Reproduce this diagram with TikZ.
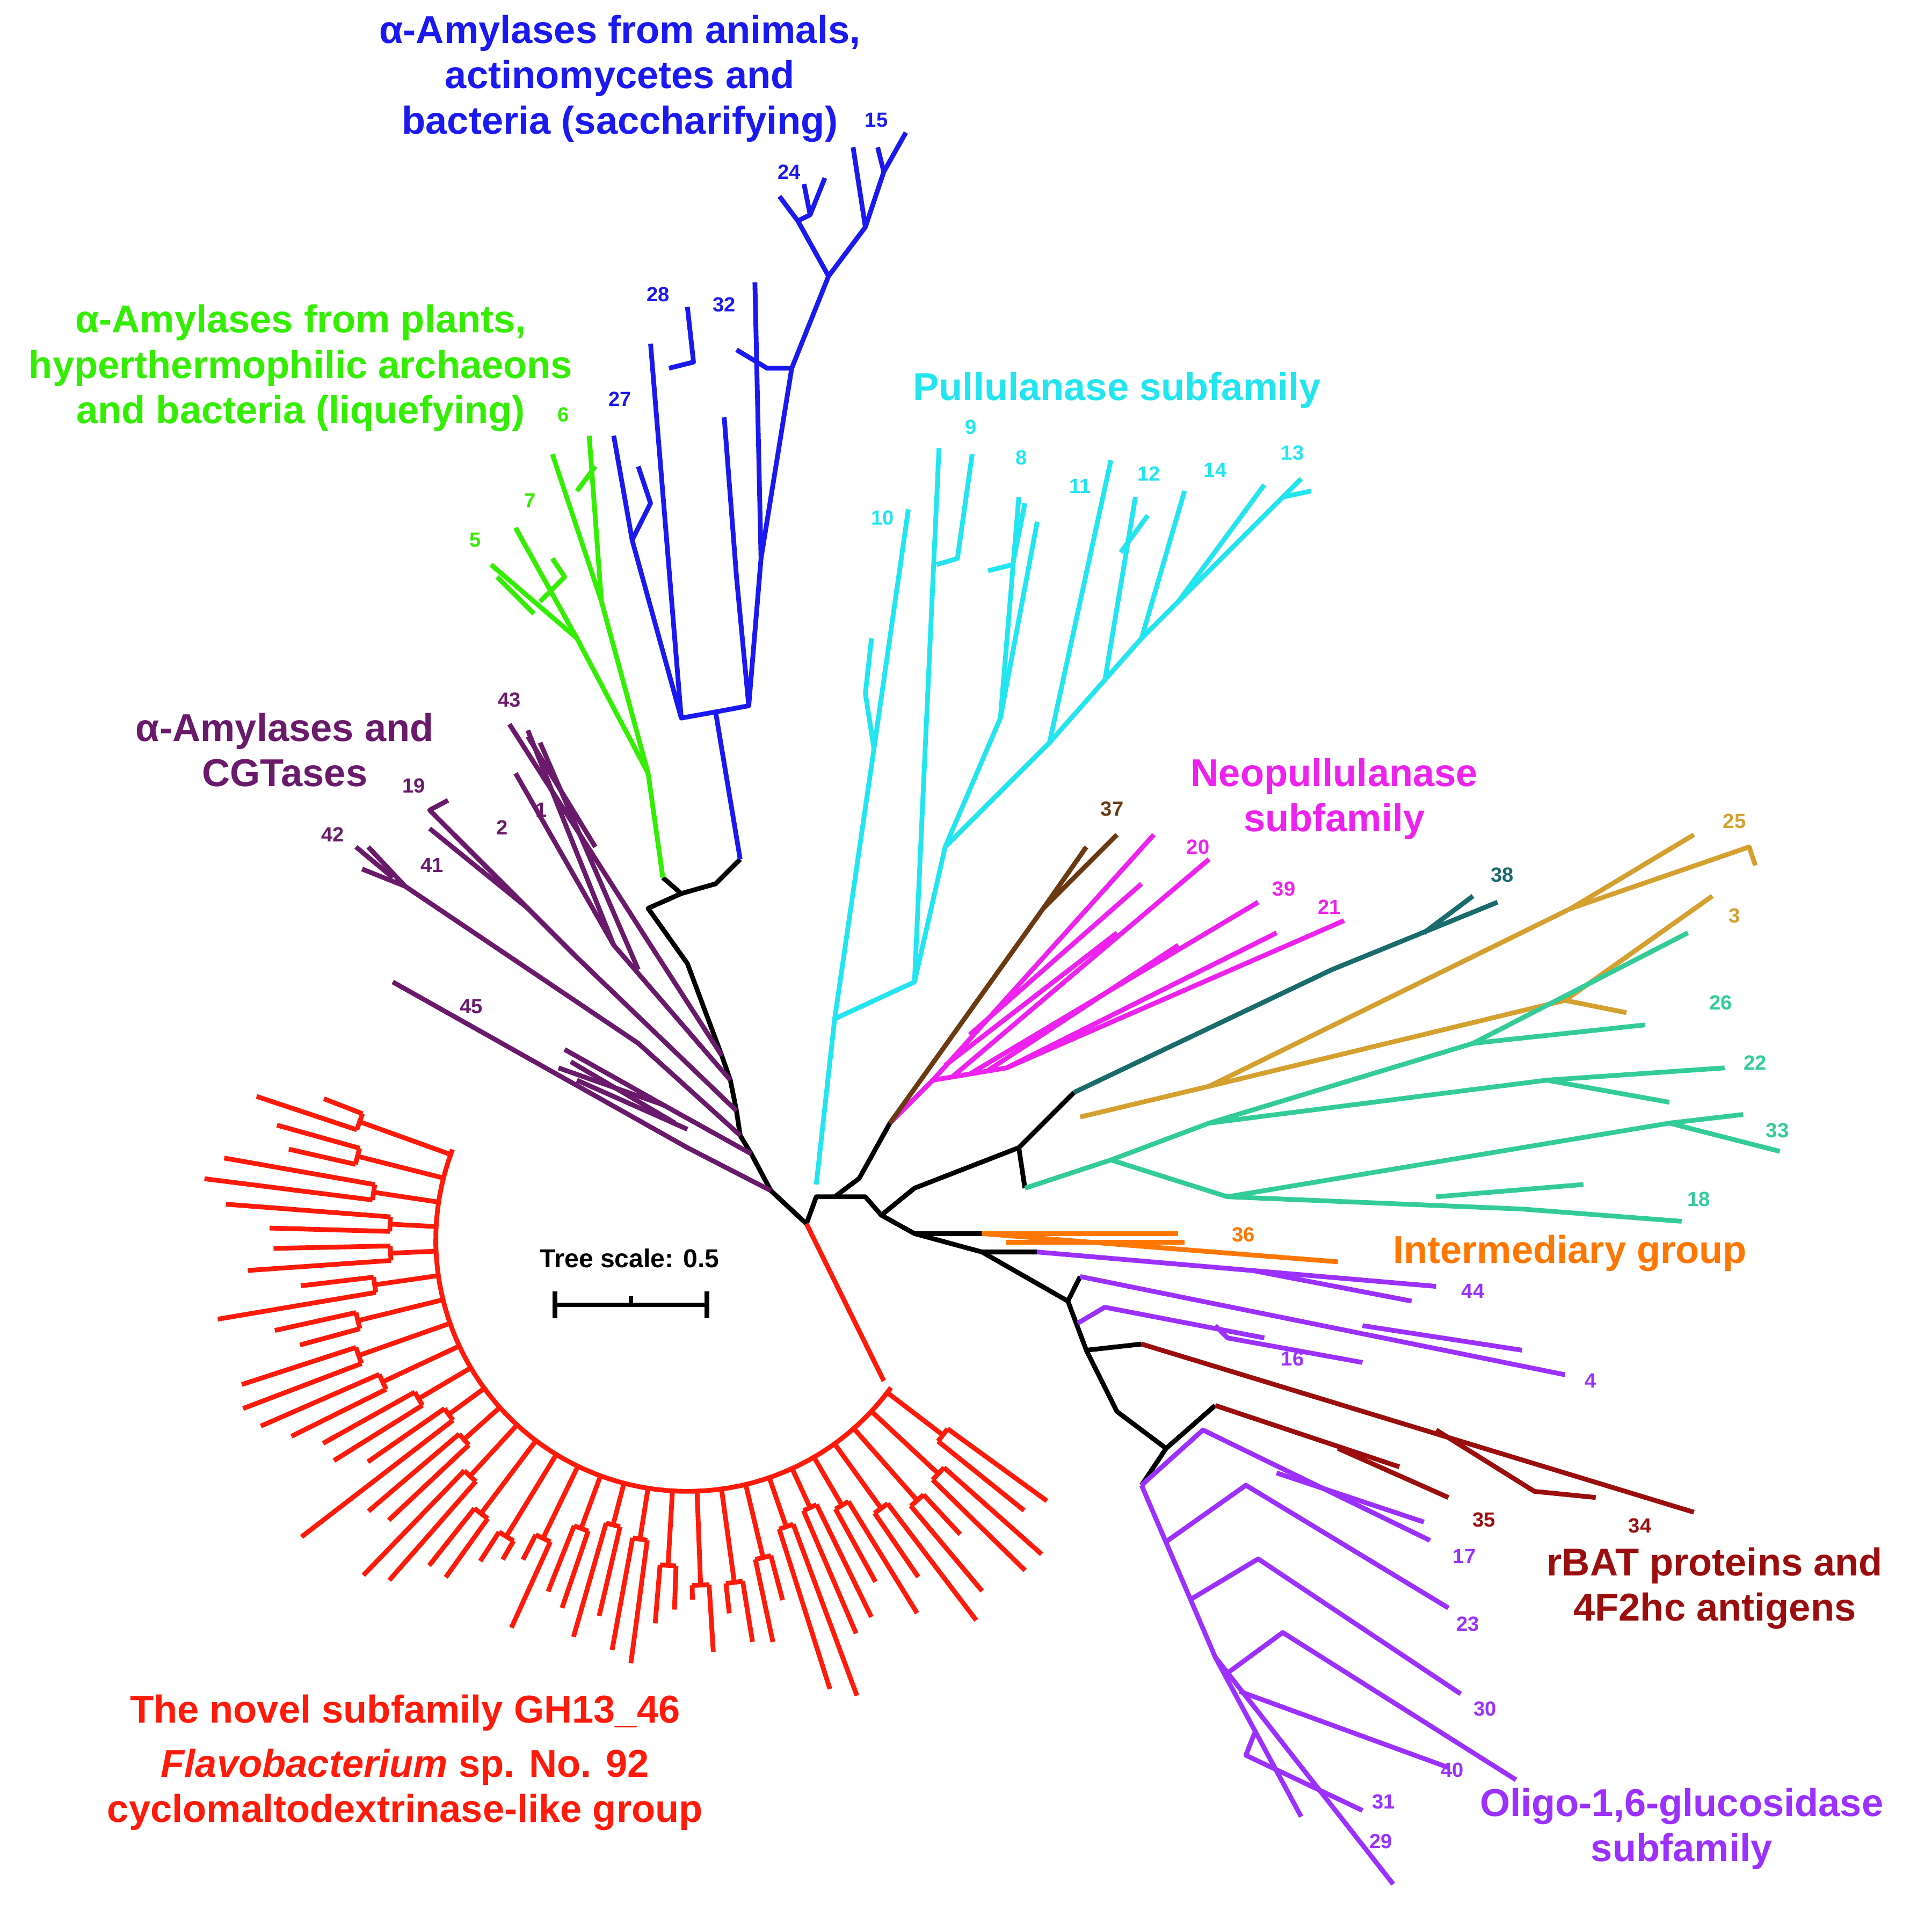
\documentclass[tikz,border=0pt]{standalone}
\usepackage{fontspec}
\setmainfont{Liberation Sans}
\begin{document}
\definecolor{cblue}{HTML}{1A1AF0}
\definecolor{cgreen}{HTML}{33EE00}
\definecolor{cpur}{HTML}{6A1A6A}
\definecolor{ccyan}{HTML}{22E5F0}
\definecolor{cmag}{HTML}{EE22EE}
\definecolor{cbrown}{HTML}{6B3A10}
\definecolor{cteal}{HTML}{1A6B6B}
\definecolor{cgold}{HTML}{D4A030}
\definecolor{csea}{HTML}{33CC99}
\definecolor{corange}{HTML}{FF7700}
\definecolor{cviol}{HTML}{9B30FF}
\definecolor{cdred}{HTML}{9B0E0E}
\definecolor{cred}{HTML}{FF1A0A}
\begin{tikzpicture}[x=0.02cm,y=-0.02cm,line width=2.2pt,line join=round,
  ttl/.style={font=\bfseries\fontsize{18}{21}\selectfont,align=center},
  num/.style={font=\bfseries\fontsize{9.5}{11}\selectfont}]
\useasboundingbox (0,0) rectangle (1556,1574);
% backbone
\draw (657,997)--(628,970)--(612,940)--(603,925)--(600,905)--(595,880)--(588,860)--(560,785)--(528,740)--(555,728)--(583,720)--(603,700);
\draw (555,728)--(540,715);
\draw (657,997)--(665,975)--(680,975)--(700,960)--(725,915);
\draw (680,975)--(705,975)--(718,990)--(745,968)--(830,935)--(875,890);
\draw (830,935)--(835,968);
\draw (718,990)--(745,1005)--(800,1005);
\draw (745,1005)--(800,1020)--(845,1020);
\draw (800,1020)--(870,1060)--(880,1040);
\draw (870,1060)--(885,1100)--(930,1095);
\draw (885,1100)--(910,1150)--(950,1180)--(990,1145);
\draw (950,1180)--(930,1210);
% blue
\begin{scope}[cblue]
\draw (603,700)--(583,580)--(555,585)--(515,440)--(500,355);
\draw (515,440)--(530,410)--(520,380);
\draw (555,585)--(530,280);
\draw (545,300)--(565,295)--(560,250);
\draw (583,580)--(610,575)--(600,470)--(590,340);
\draw (610,575)--(620,455)--(615,230);
\draw (620,455)--(645,300)--(625,300)--(600,285);
\draw (645,300)--(675,225)--(650,180)--(635,160);
\draw (650,180)--(660,175)--(655,150); \draw (660,175)--(672,145);
\draw (675,225)--(705,185)--(695,120);
\draw (705,185)--(720,140)--(715,120); \draw (720,140)--(738,108);
\end{scope}
% green
\begin{scope}[cgreen]
\draw (540,715)--(528,630)--(490,490)--(480,355);
\draw (490,490)--(450,370); \draw (470,400)--(485,380);
\draw (528,630)--(470,520)--(400,460);
\draw (470,520)--(420,430); \draw (440,490)--(460,470)--(450,455);
\draw (435,500)--(405,470);
\end{scope}
% purple
\begin{scope}[cpur]
\draw (628,970)--(560,935)--(320,800);
\draw (612,940)--(540,900)--(460,855); \draw (540,900)--(455,870); \draw (560,920)--(470,880); \draw (550,915)--(465,865);
\draw (603,925)--(520,850)--(330,722)--(300,690); \draw (330,722)--(295,708); \draw (320,715)--(290,690);
\draw (600,905)--(470,780)--(350,660)--(365,652); \draw (470,780)--(370,680); \draw (430,740)--(350,675);
\draw (595,880)--(500,770)--(430,595); \draw (500,770)--(420,630); \draw (520,790)--(440,605);
\draw (588,860)--(530,770)--(415,590); \draw (485,690)--(430,600);
\end{scope}
% cyan
\begin{scope}[ccyan]
\draw (665,965)--(680,830)--(712,610)--(740,415);
\draw (712,610)--(705,565)--(710,520);
\draw (680,830)--(745,800)--(770,690)--(855,605)--(905,375);
\draw (745,800)--(765,365);
\draw (763,460)--(780,455)--(792,370);
\draw (770,690)--(815,585)--(830,405); \draw (815,585)--(845,425);
\draw (805,465)--(825,460)--(835,410);
\draw (855,605)--(930,520)--(1060,390); \draw (930,520)--(965,400); \draw (900,555)--(925,405);
\draw (913,450)--(935,420); \draw (960,490)--(1030,395); \draw (1045,405)--(1068,400);
\end{scope}
% magenta
\begin{scope}[cmag]
\draw (725,915)--(760,880)--(940,680);
\draw (760,880)--(820,870)--(1095,750);
\draw (775,878)--(985,700); \draw (790,875)--(1025,735);
\draw (770,868)--(910,760); \draw (805,872)--(960,770); \draw (820,870)--(1040,760);
\draw (790,843)--(930,720);
\end{scope}
% brown
\draw[cbrown] (725,915)--(850,740)--(910,680); \draw[cbrown] (850,740)--(885,690);
% teal
\draw[cteal] (875,890)--(1085,790)--(1220,735); \draw[cteal] (1160,760)--(1200,730);
% gold
\begin{scope}[cgold]
\draw (880,910)--(985,885)--(1280,740)--(1380,680); \draw (1280,740)--(1425,690)--(1430,705);
\draw (985,885)--(1275,815)--(1395,730); \draw (1275,815)--(1325,825);
\end{scope}
% seagreen
\begin{scope}[csea]
\draw (835,968)--(905,945)--(985,915)--(1200,850)--(1375,760); \draw (1200,850)--(1340,835);
\draw (985,915)--(1260,880)--(1405,870); \draw (1260,880)--(1360,898);
\draw (905,945)--(1000,975)--(1360,915)--(1450,938); \draw (1360,915)--(1420,908);
\draw (1000,975)--(1240,985)--(1370,995); \draw (1170,975)--(1290,965);
\end{scope}
% orange
\draw[corange] (800,1005)--(960,1005); \draw[corange] (800,1005)--(1090,1028); \draw[corange] (820,1012)--(965,1012);
% violet
\begin{scope}[cviol]
\draw (845,1020)--(1170,1048); \draw (1020,1035)--(1150,1060);
\draw (880,1040)--(1275,1120); \draw (1110,1080)--(1240,1100);
\draw (878,1078)--(900,1065)--(1030,1090); \draw (990,1080)--(1000,1090)--(1110,1110);
\draw (930,1210)--(980,1165)--(1165,1255);
\draw (930,1210)--(990,1350)--(1135,1535);
\draw (990,1350)--(1060,1480);
\draw (950,1256)--(1015,1210)--(1180,1310);
\draw (970,1303)--(1025,1270)--(1190,1380);
\draw (1000,1363)--(1045,1330)--(1235,1450);
\draw (1010,1378)--(1180,1440);
\draw (1040,1200)--(1160,1240); \draw (1022,1412)--(1015,1430)--(1110,1475);
\end{scope}
% dark red
\begin{scope}[cdred]
\draw (930,1095)--(1380,1232); \draw (1170,1165)--(1250,1215)--(1300,1220);
\draw (990,1145)--(1140,1195); \draw (1090,1180)--(1180,1220);
\end{scope}
% red
\begin{scope}[cred]
\draw (657,997)--(720,1125);
\draw plot[domain=36:201,samples=60] ({560+205*cos(\x)},{1010+205*sin(\x)});
\foreach \i in {0,...,29}{
  \pgfmathsetmacro{\ta}{36+\i*5.6}
  \pgfmathsetmacro{\tb}{\ta+2.8}
  \pgfmathsetmacro{\tm}{\ta+1.4}
  \pgfmathsetmacro{\ri}{262+22*sin(\i*53)}
  \pgfmathsetmacro{\ra}{(\ta>70 && \ta<130) ? (325+25*sin(\i*137)) : (362+35*sin(\i*137))}
  \pgfmathsetmacro{\rb}{(\ta>70 && \ta<130) ? (318+25*sin(\i*71)) : (352+35*sin(\i*71))}
  \draw ({560+205*cos(\tm)},{1010+205*sin(\tm)})--({560+\ri*cos(\tm)},{1010+\ri*sin(\tm)});
  \draw plot[domain=\ta:\tb,samples=4] ({560+\ri*cos(\x)},{1010+\ri*sin(\x)});
  \draw ({560+\ri*cos(\ta)},{1010+\ri*sin(\ta)})--({560+\ra*cos(\ta)},{1010+\ra*sin(\ta)});
  \draw ({560+\ri*cos(\tb)},{1010+\ri*sin(\tb)})--({560+\rb*cos(\tb)},{1010+\rb*sin(\tb)});
}
\end{scope}
% scale bar
\draw (452,1052)--(452,1074); \draw (576,1052)--(576,1074); \draw (452,1063)--(576,1063); \draw (514,1063)--(514,1056);
\node[font=\bfseries\fontsize{12}{14}\selectfont] (ts) at (513,1025) {Tree scale: 0.5};
% labels
\node[ttl,cblue] (lb) at (505,64) {α-Amylases from animals,\\actinomycetes and\\bacteria (saccharifying)};
\node[ttl,cgreen] (lg) at (245,300) {α-Amylases from plants,\\hyperthermophilic archaeons\\and bacteria (liquefying)};
\node[ttl,cpur] (lp) at (232,611) {α-Amylases and\\CGTases};
\node[ttl,ccyan] (lc) at (910,318) {Pullulanase subfamily};
\node[ttl,cmag] (lm) at (1087,651) {Neopullulanase\\subfamily};
\node[ttl,corange] (lo) at (1279,1021) {Intermediary group};
\node[ttl,cdred] (ld) at (1397,1294) {rBAT proteins and\\4F2hc antigens};
\node[ttl,cviol] (lv) at (1370,1490) {Oligo-1,6-glucosidase\\subfamily};
\node[ttl,cred] (lr) at (330,1436) {The novel subfamily GH13\_46\\[4pt]\textit{Flavobacterium} sp. No. 92\\cyclomaltodextrinase-like group};
% numbers
\foreach \t/\x/\y in {15/714/98,24/643/140,28/536/240,32/590/248,27/505/325}{\node[num,cblue] (n\t) at (\x,\y) {\t};}
\foreach \t/\x/\y in {6/459/338,7/432/408,5/387/440}{\node[num,cgreen] (n\t) at (\x,\y) {\t};}
\foreach \t/\x/\y in {43/415/570,19/337/640,2/409/674,1/441/660,42/271/680,41/352/705,45/384/820}{\node[num,cpur] (n\t) at (\x,\y) {\t};}
\foreach \t/\x/\y in {9/791/348,8/832/373,10/719/422,11/880/396,12/936/386,14/990/383,13/1053/369}{\node[num,ccyan] (n\t) at (\x,\y) {\t};}
\node[num,cbrown] (n37) at (906,659) {37};
\foreach \t/\x/\y in {20/976/690,39/1046/724,21/1083/739}{\node[num,cmag] (n\t) at (\x,\y) {\t};}
\node[num,cteal] (n38) at (1224,713) {38};
\foreach \t/\x/\y in {25/1413/669,3/1413/746}{\node[num,cgold] (n\t) at (\x,\y) {\t};}
\foreach \t/\x/\y in {26/1402/817,22/1430/866,33/1448/921,18/1384/977}{\node[num,csea] (n\t) at (\x,\y) {\t};}
\node[num,corange] (n36) at (1013,1006) {36};
\foreach \t/\x/\y in {44/1200/1052,16/1053/1107,4/1296/1125,17/1193/1268,23/1196/1323,30/1210/1392,40/1183/1442,31/1127/1468,29/1125/1500}{\node[num,cviol] (n\t) at (\x,\y) {\t};}
\foreach \t/\x/\y in {35/1209/1238,34/1336/1243}{\node[num,cdred] (n\t) at (\x,\y) {\t};}
\end{tikzpicture}
\end{document}
